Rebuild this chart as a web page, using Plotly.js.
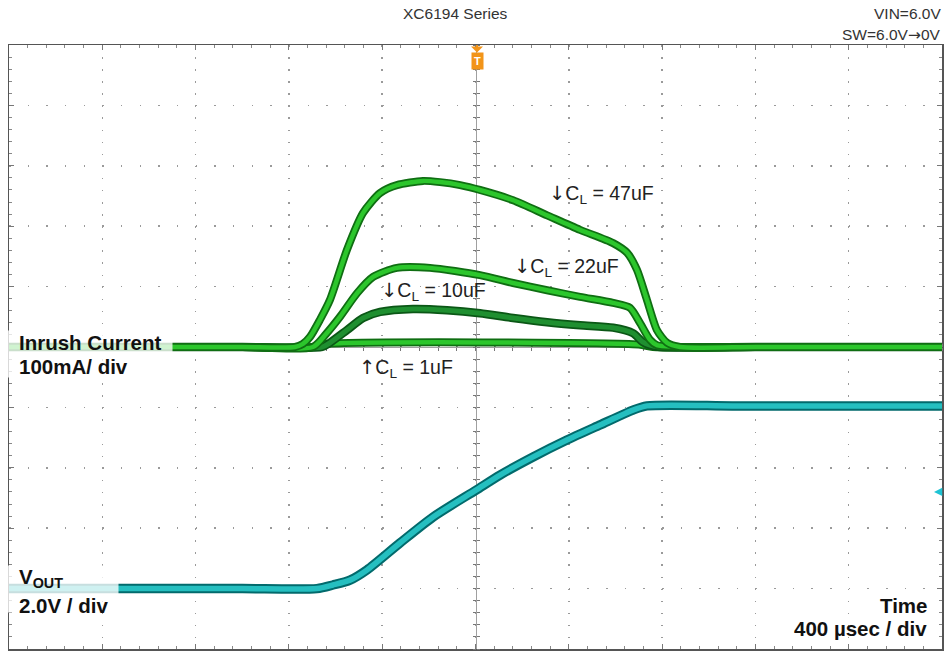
<!DOCTYPE html>
<html>
<head>
<meta charset="utf-8">
<script src="https://cdn.plot.ly/plotly-3.0.1.min.js"></script>
<style>
  html, body { margin: 0; padding: 0; background: #ffffff; }
  #chart { width: 944px; height: 651px; }
</style>
</head>
<body>
<div id="chart"></div>
<script>
// ---------------- data (time in µs relative to trigger, current in mA, voltage in V) ----------------
const t47  = [-2000, -1400, -1000, -774, -740, -709, -667, -624, -551, -482, -409, -337, -225, -152, -66, 19, 161, 307, 448, 590, 650, 692, 735, 778, 821, 877, 1200, 1600, 2000];
const i47  = [0, 0, 0, 0, 5, 17, 45, 78, 161, 222, 255, 268, 275, 273, 268, 260, 243, 218, 194, 172, 156, 128, 78, 28, 7, 0, 0, 0, 0];

const t22  = [-2000, -1400, -1000, -697, -640, -581, -508, -439, -337, -195, 19, 161, 307, 448, 590, 662, 705, 748, 778, 1200, 1600, 2000];
const i22  = [0, 0, 0, 0, 22, 50, 89, 116, 131, 131, 119, 106, 94, 83, 73, 65, 40, 12, 3, 0, 0, 0];

const t10  = [-2000, -1400, -1000, -658, -624, -551, -482, -409, -268, -122, 19, 161, 307, 448, 590, 675, 718, 748, 791, 1200, 1600, 2000];
const i10  = [0, 0, 0, 0, 7, 28, 48, 58, 63, 61, 56, 48, 41, 36, 32, 23, 8, 3, 0, 0, 0, 0];

const t1   = [-2000, -1400, -1000, -700, -640, 700, 760, 1200, 1600, 2000];
const i1   = [0, 0, 0, 0, 5, 4, 0, 0, 0, 0];

const tV   = [-2000, -1400, -1000, -680, -611, -538, -465, -324, -182, 2, 105, 247, 392, 534, 675, 735, 1100, 1500, 2000];
const vOut = [0, 0, 0, 0, 0.12, 0.28, 0.62, 1.51, 2.37, 3.26, 3.76, 4.36, 4.92, 5.42, 5.91, 6.05, 6.05, 6.05, 6.05];

const ARR_DN = '<span style="font-family:DejaVu Sans">↓</span>';
const ARR_UP = '<span style="font-family:DejaVu Sans">↑</span>';
const capLabels = [ARR_DN + 'C<sub>L</sub> = 47uF', ARR_DN + 'C<sub>L</sub> = 22uF', ARR_DN + 'C<sub>L</sub> = 10uF', ARR_UP + 'C<sub>L</sub> = 1uF'];
const capLabelT = [306, 156, -414, -509];
const capLabelI = [253, 132, 92, -35];

// ---------------- helpers ----------------
const L = 9, T = 45, W = 933, H = 604;
const px = x => (x - L) / W;          // pixel -> paper x
const py = y => (T + H - y) / H;      // pixel -> paper y

function band(t, v, dark, bright, wd, wb, yaxis) {
  const base = { x: t, y: v, type: 'scatter', mode: 'lines', hoverinfo: 'skip', yaxis: yaxis };
  return [
    Object.assign({}, base, { line: { color: dark, width: wd, shape: 'spline', smoothing: 0.7 } }),
    Object.assign({}, base, { line: { color: bright, width: wb, shape: 'spline', smoothing: 0.7 } })
  ];
}

const GREEN = '#2cc62c', GREEN_D = '#0f6e12';
const DGREEN = '#1f8f30', DGREEN_D = '#0b5716';
const CYAN = '#25bfc0', CYAN_D = '#026a6c';

const traces = [].concat(
  band(t1,  i1,  GREEN_D,  GREEN,  8, 4.5, 'y'),
  band(t10, i10, DGREEN_D, DGREEN, 8.5, 5, 'y'),
  band(t22, i22, GREEN_D,  GREEN,  8, 4.5, 'y'),
  band(t47, i47, GREEN_D,  GREEN,  8, 4.5, 'y'),
  band(tV,  vOut, CYAN_D,  CYAN,   9.5, 5.5, 'y2'),
  [
    { x: [null], y: [null], xaxis: 'x2', yaxis: 'y', type: 'scatter', hoverinfo: 'skip' },
    { x: [null], y: [null], xaxis: 'x3', yaxis: 'y', type: 'scatter', hoverinfo: 'skip' },
    { x: [null], y: [null], xaxis: 'x', yaxis: 'y3', type: 'scatter', hoverinfo: 'skip' },
    { x: [null], y: [null], xaxis: 'x', yaxis: 'y4', type: 'scatter', hoverinfo: 'skip' }
  ]
);

const centerAx = {
  anchor: 'free', position: 0.5, showline: true, linecolor: '#a0a0a0', linewidth: 1,
  ticks: 'outside', ticklen: 3, tickcolor: '#777', tickwidth: 1,
  showgrid: false, zeroline: false, showticklabels: false, fixedrange: true, layer: 'below traces'
};

const layout = {
  width: 944, height: 651,
  margin: { l: L, r: 944 - L - W, t: T, b: 651 - T - H, pad: 0 },
  paper_bgcolor: '#ffffff', plot_bgcolor: '#ffffff',
  showlegend: false,
  font: { family: '"Liberation Sans", Arial, sans-serif', color: '#111' },
  xaxis: {
    range: [-2000, 2000], tick0: 0, dtick: 400,
    showgrid: true, gridcolor: '#9a9a9a', gridwidth: 1.5, griddash: '1.5px,10.58px',
    showline: true, linecolor: '#555', linewidth: 1.5, mirror: 'ticks',
    ticks: 'inside', ticklen: 5, tickcolor: '#777', tickwidth: 1,
    minor: { dtick: 80, ticks: 'inside', ticklen: 3, tickcolor: '#888', showgrid: false },
    showticklabels: false, zeroline: false, fixedrange: true, layer: 'below traces'
  },
  yaxis: {
    range: [-500, 500], tick0: 0, dtick: 100,
    showgrid: true, gridcolor: '#9a9a9a', gridwidth: 1.5, griddash: '1.5px,17.16px',
    showline: true, linecolor: '#555', linewidth: 1.5, mirror: 'ticks',
    ticks: 'inside', ticklen: 5, tickcolor: '#777', tickwidth: 1,
    minor: { dtick: 20, ticks: 'inside', ticklen: 3, tickcolor: '#888', showgrid: false },
    showticklabels: false, zeroline: false, fixedrange: true, layer: 'below traces'
  },
  yaxis2: { overlaying: 'y', range: [-2, 18], visible: false, fixedrange: true },
  xaxis2: Object.assign({}, centerAx, { overlaying: 'x', side: 'bottom', range: [-2000, 2000], tick0: 0, dtick: 80 }),
  xaxis3: Object.assign({}, centerAx, { overlaying: 'x', side: 'top', range: [-2000, 2000], tick0: 0, dtick: 80 }),
  yaxis3: Object.assign({}, centerAx, { overlaying: 'y', side: 'left', range: [-500, 500], tick0: 0, dtick: 20 }),
  yaxis4: Object.assign({}, centerAx, { overlaying: 'y', side: 'right', range: [-500, 500], tick0: 0, dtick: 20 }),
  annotations: []
};

const A = layout.annotations;
const hdrFont = { size: 15.5, color: '#333' };
// header texts
A.push({ xref: 'paper', yref: 'paper', x: px(455), y: py(14), xanchor: 'center', yanchor: 'middle',
         text: 'XC6194 Series', showarrow: false, font: hdrFont });
A.push({ xref: 'paper', yref: 'paper', x: px(943), y: py(14), xanchor: 'right', yanchor: 'middle',
         text: 'VIN=6.0V', showarrow: false, font: hdrFont });
A.push({ xref: 'paper', yref: 'paper', x: px(943), y: py(35), xanchor: 'right', yanchor: 'middle',
         text: 'SW=6.0V<span style="font-family:DejaVu Sans">→</span>0V', showarrow: false, font: hdrFont });

// trigger marker: orange box with a down-pointing arrowhead just under the top edge
A.push({ xref: 'paper', yref: 'paper', x: px(477), y: py(45), ax: 0, ay: 16,
         text: '<b>T</b>', showarrow: true, arrowside: 'start',
         arrowhead: 2, arrowsize: 1.4, arrowwidth: 2, arrowcolor: '#f29419', standoff: 0, startstandoff: 0,
         bgcolor: '#f29419', borderpad: 2, font: { size: 11, color: '#ffffff' } });

// cyan level marker on right
A.push({ xref: 'paper', yref: 'y2', x: px(934), y: 3.2, ax: 9, ay: 0, text: '', showarrow: true,
         arrowhead: 2, arrowsize: 1.1, arrowwidth: 1.5, arrowcolor: '#1ec3d4' });

// label backdrops (semi-transparent, dim the trace under the label like the scope)
A.push({ xref: 'paper', yref: 'paper', x: px(0), y: py(354), xanchor: 'left', yanchor: 'middle',
         text: ' ', showarrow: false, width: 171, height: 46, borderpad: 0, bgcolor: 'rgba(255,255,255,0.78)' });
A.push({ xref: 'paper', yref: 'paper', x: px(0), y: py(589), xanchor: 'left', yanchor: 'middle',
         text: ' ', showarrow: false, width: 117, height: 46, borderpad: 0, bgcolor: 'rgba(255,255,255,0.78)' });

// channel labels
const boldFont = { size: 20.5, color: '#111', family: '"Liberation Sans", Arial, sans-serif' };
A.push({ xref: 'paper', yref: 'paper', x: px(17), y: py(342), xanchor: 'left', yanchor: 'middle',
         text: '<b>Inrush Current</b>', showarrow: false, font: boldFont });
A.push({ xref: 'paper', yref: 'paper', x: px(17), y: py(367), xanchor: 'left', yanchor: 'middle',
         text: '<b>100mA/ div</b>', showarrow: false, font: boldFont });
A.push({ xref: 'paper', yref: 'paper', x: px(17), y: py(578), xanchor: 'left', yanchor: 'middle',
         text: '<b>V<sub>OUT</sub></b>', showarrow: false, font: boldFont });
A.push({ xref: 'paper', yref: 'paper', x: px(17), y: py(605), xanchor: 'left', yanchor: 'middle',
         text: '<b>2.0V / div</b>', showarrow: false, font: boldFont });
A.push({ xref: 'paper', yref: 'paper', x: px(929), y: py(605), xanchor: 'right', yanchor: 'middle',
         text: '<b>Time</b>', showarrow: false, font: boldFont });
A.push({ xref: 'paper', yref: 'paper', x: px(929), y: py(628), xanchor: 'right', yanchor: 'middle',
         text: '<b>400 µsec / div</b>', showarrow: false, font: boldFont });

// capacitor labels
capLabels.forEach((txt, k) => {
  A.push({ xref: 'x', yref: 'y', x: capLabelT[k], y: capLabelI[k], xanchor: 'left', yanchor: 'middle',
           text: txt, showarrow: false, font: { size: 19.5, color: '#222' } });
});

Plotly.newPlot('chart', traces, layout, { staticPlot: true, displayModeBar: false });
</script>
</body>
</html>
